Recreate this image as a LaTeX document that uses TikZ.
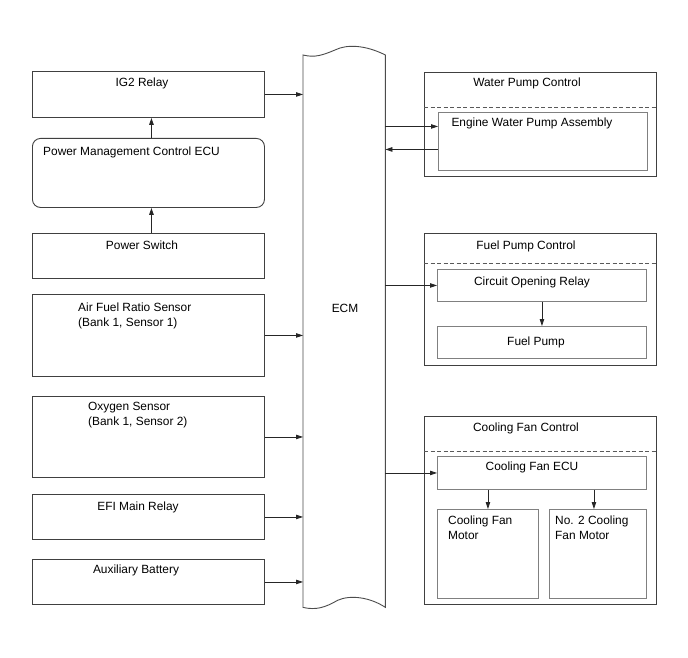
\documentclass[tikz,border=0pt]{standalone}
\usepackage{fontspec}
\setmainfont{Liberation Sans}
\usetikzlibrary{arrows.meta,calc}
\tikzset{
  box/.style={draw=black!75,line width=0.9pt,inner sep=0pt,anchor=north west},
  inbox/.style={draw=black!50,line width=0.9pt,inner sep=0pt,anchor=north west},
  txt/.style={inner sep=0pt,align=left},
  arr/.style={draw=black!85,line width=0.8pt,-{Triangle[length=7pt,width=4.5pt]}},
  dashline/.style={draw=black!65,line width=0.9pt,dash pattern=on 4pt off 2.5pt}
}
\begin{document}
\begin{tikzpicture}[x=1pt,y=-1pt,font=\fontsize{11.9}{15}\selectfont]
\path[use as bounding box,fill=white] (0,0) rectangle (688,658);

% ECM
\node[inner sep=0pt,anchor=north west,minimum width=82pt,minimum height=552pt] (ecm) at (303,55) {};
\draw[draw=black!70,line width=0.9pt]
  (ecm.north west) .. controls +(12,3) and +(-12,5) .. ++(32,-5)
  .. controls +(12,-6) and +(-20,-10) .. (ecm.north east)
  -- (ecm.south east)
  .. controls +(-15,-10) and +(13,-6) .. ++(-48,-7)
  .. controls +(-12,7) and +(13,3) .. (ecm.south west) -- cycle;
\node[txt] (ecmt) at (345,308) {ECM};

% Left column
\node[box,minimum width=232pt,minimum height=46pt] (ig2) at (32,71) {};
\node[txt] (ig2t) at (142,83) {IG2 Relay};
\node[box,rounded corners=8pt,minimum width=232pt,minimum height=69pt] (pmc) at (32,138) {};
\node[txt,anchor=west] (pmct) at (43,152) {Power Management Control ECU};
\node[box,minimum width=232pt,minimum height=45pt] (psw) at (32,233) {};
\node[txt] (pswt) at (142,245) {Power Switch};
\node[box,minimum width=232pt,minimum height=82pt] (afr) at (32,294) {};
\node[txt,anchor=west] (afrt) at (78,316) {Air Fuel Ratio Sensor\\(Bank 1, Sensor 1)};
\node[box,minimum width=232pt,minimum height=81pt] (oxs) at (32,396) {};
\node[txt,anchor=west] (oxst) at (88,415) {Oxygen Sensor\\(Bank 1, Sensor 2)};
\node[box,minimum width=232pt,minimum height=45pt] (efi) at (32,494) {};
\node[txt] (efit) at (138,507) {EFI Main Relay};
\node[box,minimum width=232pt,minimum height=45pt] (aux) at (32,559) {};
\node[txt] (auxt) at (136,570) {Auxiliary Battery};

\draw[arr] ([xshift=3pt]psw.north) -- ([xshift=3pt]pmc.south);
\draw[arr] ([xshift=3pt]pmc.north) -- ([xshift=3pt]ig2.south);
\foreach \n in {ig2,afr,oxs,efi,aux}
  \draw[arr] (\n.east) -- (\n.east -| ecm.west);

% Water pump control
\node[box,minimum width=232pt,minimum height=104pt] (wpc) at (424,72) {};
\node[txt] (wpct) at (527,83) {Water Pump Control};
\draw[dashline] ([yshift=-35pt]wpc.north west) -- ([yshift=-35pt]wpc.north east);
\node[inbox,minimum width=209pt,minimum height=58pt] (ewp) at (438,112) {};
\node[txt] (ewpt) at (532,123) {Engine Water Pump Assembly};
\coordinate (ewpa) at ([yshift=15pt]ewp.west);
\coordinate (ewpb) at ([yshift=-8pt]ewp.west);
\draw[arr] (ewpa -| ecm.east) -- (ewpa);
\draw[arr] (ewpb) -- (ewpb -| ecm.east);

% Fuel pump control
\node[box,minimum width=232pt,minimum height=132pt] (fpc) at (424,233) {};
\node[txt] (fpct) at (526,246) {Fuel Pump Control};
\draw[dashline] ([yshift=-30pt]fpc.north west) -- ([yshift=-30pt]fpc.north east);
\node[inbox,minimum width=209pt,minimum height=32pt] (cor) at (437,269) {};
\node[txt] (cort) at (532,282) {Circuit Opening Relay};
\node[inbox,minimum width=209pt,minimum height=32pt] (fp) at (437,326) {};
\node[txt] (fpt) at (536,342) {Fuel Pump};
\draw[arr] (cor.west -| ecm.east) -- (cor.west);
\draw[arr] (cor.south) -- (fp.north);

% Cooling fan control
\node[box,minimum width=232pt,minimum height=188pt] (cfc) at (424,416) {};
\node[txt] (cfct) at (526,428) {Cooling Fan Control};
\draw[dashline] ([yshift=-35pt]cfc.north west) -- ([yshift=-35pt]cfc.north east);
\node[inbox,minimum width=209pt,minimum height=33pt] (cfe) at (437,456) {};
\node[txt] (cfet) at (532,467) {Cooling Fan ECU};
\node[inbox,minimum width=101pt,minimum height=89pt] (m1) at (437,509) {};
\node[txt,anchor=west] (m1t) at (448,528) {Cooling Fan\\Motor};
\node[inbox,minimum width=97pt,minimum height=89pt] (m2) at (549,509) {};
\node[txt,anchor=west] (m2t) at (555,528) {No. 2 Cooling\\Fan Motor};
\coordinate (m2top) at ([xshift=-4pt]m2.north);
\draw[arr] (cfe.west -| ecm.east) -- (cfe.west);
\draw[arr] (cfe.south -| m1.north) -- (m1.north);
\draw[arr] (cfe.south -| m2top) -- (m2top);
\end{tikzpicture}
\end{document}
